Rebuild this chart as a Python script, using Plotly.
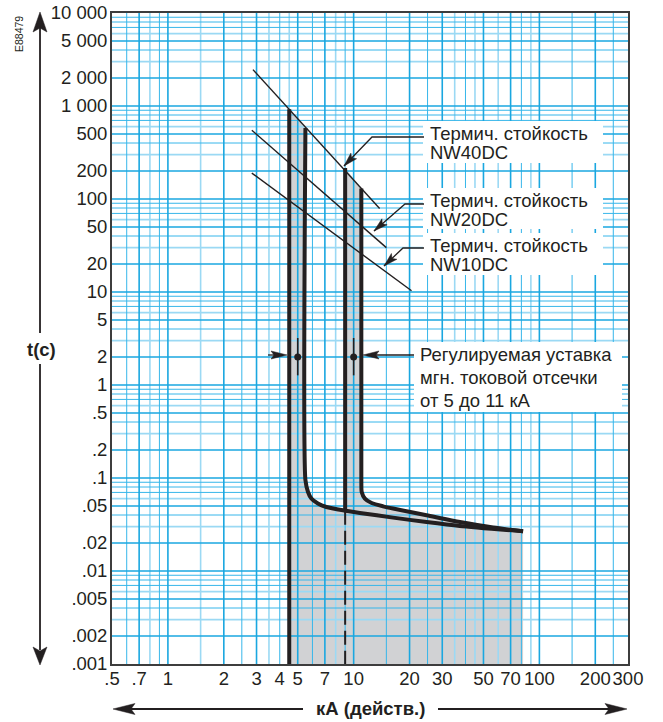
import math
import plotly.graph_objects as go

# ---------------- axis ticks ----------------
x_tick_vals = [0.5, 0.7, 1, 2, 3, 4, 5, 7, 10, 20, 30, 50, 70, 100, 200, 300]
x_tick_text = [".5", ".7", "1", "2", "3", "4", "5", "7", "10", "20", "30", "50", "70", "100", "200", "300"]
y_tick_vals = [10000, 5000, 2000, 1000, 500, 200, 100, 50, 20, 10, 5, 2, 1,
               0.5, 0.2, 0.1, 0.05, 0.02, 0.01, 0.005, 0.002, 0.001]
y_tick_text = ["10 000", "5 000", "2 000", "1 000", "500", "200", "100", "50", "20", "10", "5", "2", "1",
               ".5", ".2", ".1", ".05", ".02", ".01", ".005", ".002", ".001"]

# ---------------- grid of the log paper ----------------
x_grid_strong = [0.7, 1, 2, 3, 5, 7, 10, 20, 30, 50, 70, 100, 200]
x_grid_normal = [0.6, 0.9, 2.5, 4, 6, 9, 15, 25, 40, 80, 150, 250]
x_grid_light = [0.8, 1.5, 3.5, 4.5, 8, 35, 45, 60, 90]
y_decades = [0.001, 0.01, 0.1, 1, 10, 100, 1000]
y_mult_strong = [1, 2, 5]
y_mult_normal = [4, 7, 8, 9]
y_mult_light = [3, 6]

# ---------------- thermal withstand lines (kA, s) ----------------
nw40_I = [2.87, 13.8]
nw40_t = [2460, 78.9]
nw20_I = [2.83, 15.0]
nw20_t = [548, 30.0]
nw10_I = [2.83, 20.5]
nw10_t = [190, 10.3]

# ---------------- tripping bands ----------------
band1_I = [4.5, 5.5]      # setting 5 kA, min / max
band1_top = [920, 580]
band2_I = [9, 11]         # setting 10 kA, min / max
band2_top = [215, 130]

# max tripping curve of the 5 kA setting
curveA_I = [5.5, 5.5, 5.68, 5.92, 6.42, 7.13, 8.76, 10.8, 16.3, 24.7, 37.3, 81.7]
curveA_t = [580, 0.095, 0.0707, 0.0601, 0.0531, 0.0488, 0.0449, 0.0421, 0.0375, 0.0336, 0.0305, 0.0267]
# max tripping curve of the 10 kA setting
curveB_I = [11, 11, 11.05, 11.5, 12.5, 14.4, 16.3, 24.7, 37.3, 56.3, 81.7]
curveB_t = [130, 0.095, 0.0707, 0.0601, 0.0539, 0.0496, 0.0469, 0.0397, 0.0336, 0.0293, 0.0267]
band2_join_t = 0.0445     # where the 9 kA edge meets curve A
t_min, t_max = 0.001, 10000
I_min, I_max = 0.5, 300

# instantaneous setting marks
setting_I = [5, 10]
setting_t = [2, 2]
setting_span = [1.27, 3.2]

INK = "#231f20"
FONT = "Liberation Sans, Arial, Helvetica, sans-serif"

fig = go.Figure()

# grey tripping area
fill_I = ([band1_I[0], band1_I[0], band1_I[1]] + curveA_I[1:7] + [band2_I[0], band2_I[0], band2_I[1]]
          + curveB_I[1:] + [curveB_I[-1], band1_I[0]])
fill_t = ([t_min, band1_top[0], band1_top[1]] + curveA_t[1:7] + [band2_join_t, band2_top[0], band2_top[1]]
          + curveB_t[1:] + [t_min, t_min])
fig.add_trace(go.Scatter(x=fill_I, y=fill_t, mode="lines", fill="toself", fillcolor="#d1d2d4",
                         line=dict(width=0), hoverinfo="skip"))


def vlines(vals):
    xs, ys = [], []
    for v in vals:
        xs += [v, v, None]
        ys += [t_min, t_max, None]
    return xs, ys


def hlines(vals):
    xs, ys = [], []
    for v in vals:
        xs += [I_min, I_max, None]
        ys += [v, v, None]
    return xs, ys


def ygrid(mults):
    out = []
    for d in y_decades:
        for m in mults:
            v = d * m
            if t_min < v < t_max:
                out.append(v)
    return out


grid_styles = [
    (x_grid_light, ygrid(y_mult_light), "#9bd9f4", 1.6),
    (x_grid_normal, ygrid(y_mult_normal), "#36b6ea", 1.0),
    (x_grid_strong, ygrid(y_mult_strong), "#1aa7e0", 1.6),
]
for xv, yv, col, w in grid_styles:
    gx, gy = vlines(xv)
    fig.add_trace(go.Scatter(x=gx, y=gy, mode="lines", line=dict(color=col, width=w), hoverinfo="skip"))
    gx, gy = hlines(yv)
    fig.add_trace(go.Scatter(x=gx, y=gy, mode="lines", line=dict(color=col, width=w), hoverinfo="skip"))

# thermal withstand lines
for I, t in [(nw40_I, nw40_t), (nw20_I, nw20_t), (nw10_I, nw10_t)]:
    fig.add_trace(go.Scatter(x=I, y=t, mode="lines", line=dict(color=INK, width=1.4), hoverinfo="skip"))

# band edges
fig.add_trace(go.Scatter(x=[band1_I[0], band1_I[0]], y=[band1_top[0], t_min], mode="lines",
                         line=dict(color=INK, width=4), hoverinfo="skip"))
fig.add_trace(go.Scatter(x=[band2_I[0], band2_I[0]], y=[band2_top[0], band2_join_t], mode="lines",
                         line=dict(color=INK, width=4), hoverinfo="skip"))
fig.add_trace(go.Scatter(x=[band2_I[0], band2_I[0]], y=[band2_join_t, t_min], mode="lines",
                         line=dict(color=INK, width=2, dash="14px,6px"), hoverinfo="skip"))
for I, t in [(curveA_I, curveA_t), (curveB_I, curveB_t)]:
    fig.add_trace(go.Scatter(x=I, y=t, mode="lines", line=dict(color=INK, width=4, shape="spline", smoothing=0.6),
                             hoverinfo="skip"))

# setting marks
for I in setting_I:
    fig.add_trace(go.Scatter(x=[I, I], y=setting_span, mode="lines", line=dict(color=INK, width=1.6),
                             hoverinfo="skip"))
fig.add_trace(go.Scatter(x=setting_I, y=setting_t, mode="markers", marker=dict(color=INK, size=7),
                         hoverinfo="skip"))

# ---------------- page-level decorations (pixel -> paper) ----------------
PL, PT, PW, PH = 112, 13, 516, 651


def fx(px):
    return (px - PL) / PW


def fy(py):
    return (PT + PH - py) / PH


shapes = []


def seg(points, width=1.4):
    path = "M " + " L ".join(f"{fx(a):.5f},{fy(b):.5f}" for a, b in points)
    shapes.append(dict(type="path", xref="paper", yref="paper", path=path,
                       line=dict(color=INK, width=width)))


def head(tip, tail, length, half, notch):
    dx, dy = tip[0] - tail[0], tip[1] - tail[1]
    n = math.hypot(dx, dy)
    ux, uy = dx / n, dy / n
    px_, py_ = -uy, ux
    bx, by = tip[0] - length * ux, tip[1] - length * uy
    pts = [tip, (bx + half * px_, by + half * py_),
           (tip[0] - (length - notch) * ux, tip[1] - (length - notch) * uy),
           (bx - half * px_, by - half * py_)]
    path = "M " + " L ".join(f"{fx(a):.5f},{fy(b):.5f}" for a, b in pts) + " Z"
    shapes.append(dict(type="path", xref="paper", yref="paper", path=path,
                       fillcolor=INK, line=dict(color=INK, width=0.5)))


def white_box(x0, y0, x1, y1):
    shapes.append(dict(type="rect", xref="paper", yref="paper", layer="above",
                       x0=fx(x0), x1=fx(x1), y0=fy(y1), y1=fy(y0),
                       fillcolor="white", line=dict(width=0)))


# white panels behind the callout texts
white_box(423, 121, 603, 163)
white_box(423, 188, 603, 229)
white_box(423, 233, 603, 275)
white_box(414, 342, 622, 412)

# axis arrows
seg([(40, 28), (40, 333)], 1.8)
seg([(40, 364), (40, 650)], 1.8)
head((40, 12), (40, 40), 20, 7, 4)
head((40, 665), (40, 640), 18, 7, 4)
seg([(128, 709), (303, 709)], 1.8)
seg([(438, 709), (612, 709)], 1.8)
head((113, 709), (140, 709), 22, 5.5, 4)
head((627, 709), (600, 709), 22, 5.5, 4)

# leaders of the thermal withstand labels
for elbow, tip, yy in [((372, 137), (344, 166), 137), ((405, 204), (374, 231), 204), ((403, 248), (384, 266), 248)]:
    seg([(424, yy), elbow, tip], 1.3)
    head(tip, elbow, 14, 4, 3)

# leaders of the setting label
seg([(414, 355), (372, 355)], 1.3)
head((363, 355), (412, 355), 16, 4, 3)
seg([(268, 355), (278, 355)], 1.3)
head((287, 355), (268, 355), 16, 4, 3)

annotations = []


def label(text, px, py, size=18, bold=False, anchor="left", angle=0):
    annotations.append(dict(text=f"<b>{text}</b>" if bold else text, x=fx(px), y=fy(py),
                            xref="paper", yref="paper", xanchor=anchor, yanchor="middle",
                            showarrow=False, textangle=angle,
                            font=dict(family=FONT, size=size, color=INK), align="left"))


for y1, name in [(133, "NW40DC"), (200, "NW20DC"), (245, "NW10DC")]:
    label("Термич. стойкость", 428, y1, size=18.5)
    label(name, 428, y1 + 19.5, size=18.5)

for yy, txt in [(355, "Регулируемая уставка"), (377.5, "мгн. токовой отсечки"), (400, "от 5 до 11 кА")]:
    label(txt, 418, yy, size=18.5)

label("t(с)", 41, 349, size=18.5, bold=True, anchor="center")
label("кА (действ.)", 370, 708, size=18.5, bold=True, anchor="center")
label("E88479", 19, 34, size=10.5, anchor="center", angle=-90)

fig.update_layout(
    width=663, height=722,
    margin=dict(l=PL, r=663 - PL - PW, t=PT, b=722 - PT - PH, autoexpand=False),
    paper_bgcolor="white", plot_bgcolor="white",
    showlegend=False,
    shapes=shapes,
    annotations=annotations,
    font=dict(family=FONT, color=INK),
)
fig.update_xaxes(type="log", range=[math.log10(I_min) - 1e-6, math.log10(I_max) + 1e-6],
                 tickvals=x_tick_vals, ticktext=x_tick_text, showgrid=False, zeroline=False,
                 ticks="", tickangle=0, ticklabelstandoff=-3, tickfont=dict(size=18.5, color=INK, family=FONT),
                 showline=True, mirror=True, linecolor="#3d3d3d", linewidth=1.8, automargin=False)
fig.update_yaxes(type="log", range=[math.log10(t_min) - 1e-6, math.log10(t_max) + 1e-6],
                 tickvals=y_tick_vals, ticktext=y_tick_text, showgrid=False, zeroline=False,
                 ticks="", ticklabelstandoff=-1, tickfont=dict(size=18.5, color=INK, family=FONT),
                 showline=True, mirror=True, linecolor="#3d3d3d", linewidth=1.8, automargin=False)

fig.write_html("out.html")
